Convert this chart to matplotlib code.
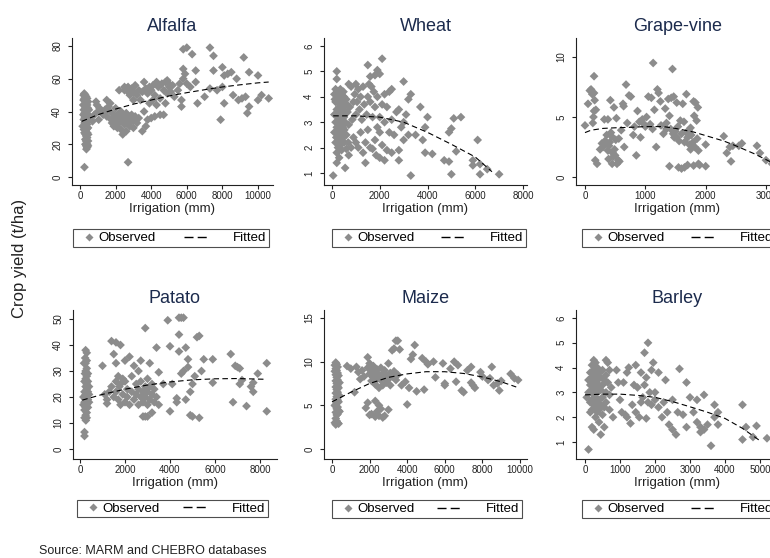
import numpy as np
import matplotlib
matplotlib.use('Agg')
import matplotlib.pyplot as plt
from matplotlib.lines import Line2D
from matplotlib.legend_handler import HandlerLine2D

plt.rcParams['font.family'] = ['Liberation Sans', 'DejaVu Sans']

# ---- Data: (irrigation mm, yield t/ha) ----
alfalfa = [(150, 31), (180, 44), (190, 38), (200, 50), (200, 47), (210, 41), (210, 35), (220, 29),
           (240, 51), (250, 48), (250, 44), (250, 39), (260, 36), (260, 33), (250, 27), (250, 6),
           (300, 50), (300, 46), (290, 42), (310, 38), (300, 34), (300, 31), (310, 26), (300, 23), (300, 20),
           (350, 49), (350, 45), (340, 43), (360, 40), (350, 37), (350, 33), (360, 29), (350, 25), (340, 22),
           (350, 19), (360, 17), (400, 48), (400, 44), (410, 41), (400, 36), (390, 32), (400, 30), (410, 27),
           (400, 24), (410, 20), (400, 18), (450, 46), (450, 42), (460, 38), (450, 34), (450, 30), (460, 26),
           (450, 22), (450, 19), (500, 41), (520, 36),
           (700, 34), (800, 38), (900, 46), (950, 44), (1000, 40), (1050, 35), (1100, 42), (1200, 40),
           (1300, 38), (1400, 41), (1500, 47), (1500, 37), (1600, 43), (1700, 45), (1700, 40), (1750, 35),
           (1800, 33), (1900, 38), (1900, 31), (2000, 42), (2000, 35), (2050, 31), (2100, 38), (2100, 30),
           (2200, 53), (2200, 37), (2200, 33), (2300, 40), (2300, 35), (2300, 29), (2400, 38), (2400, 34),
           (2400, 26), (2500, 55), (2500, 53), (2500, 36), (2500, 32), (2600, 54), (2600, 39), (2600, 35),
           (2600, 28), (2700, 55), (2700, 52), (2700, 37), (2700, 33), (2700, 9), (2800, 50), (2800, 36),
           (2800, 31), (2900, 54), (2900, 38), (2900, 34), (3000, 52), (3000, 47), (3000, 35), (3000, 30),
           (3100, 56), (3100, 37), (3200, 50), (3200, 33), (3300, 53), (3300, 36), (3400, 47), (3500, 52),
           (3500, 28), (3600, 58), (3600, 40), (3700, 54), (3700, 31), (3800, 51), (3800, 35), (3900, 55),
           (3900, 45), (4000, 53), (4000, 36), (4100, 56), (4100, 47), (4200, 50), (4200, 37), (4300, 58),
           (4300, 44), (4400, 55), (4500, 48), (4500, 38), (4600, 57), (4700, 53), (4700, 38), (4800, 58),
           (4800, 45), (4900, 59), (4900, 51), (5000, 57), (5000, 55), (5100, 52), (5200, 56), (5300, 49),
           (5500, 53), (5600, 57), (5700, 47), (5700, 43), (5800, 78), (5800, 66), (5800, 60), (5900, 63),
           (6000, 79), (6000, 57), (6200, 55), (6300, 75), (6500, 65), (6500, 58), (6600, 45), (7000, 49),
           (7300, 79), (7300, 54), (7500, 74), (7500, 65), (7700, 53), (7900, 35), (8000, 67), (8000, 55),
           (8100, 62), (8100, 45), (8300, 63), (8500, 64), (8600, 50), (8800, 60), (8900, 47), (9100, 48),
           (9200, 73), (9300, 49), (9400, 39), (9500, 64), (9500, 43), (10000, 62), (10000, 47), (10200, 50),
           (10600, 48)]
alfalfa_fit_x = [100, 1000, 2000, 3000, 4000, 5000, 6000, 7000, 8000, 9000, 10000, 10600]
alfalfa_fit_y = [34, 38, 41.5, 44.5, 47, 49.5, 51.5, 53.3, 55, 56.3, 57.5, 58]

wheat = [(50, 0.9), (100, 3.3), (100, 4.1), (100, 2.6), (120, 3.9), (150, 3.8), (150, 3.0), (150, 2.2),
         (150, 4.3), (180, 2.4), (200, 5.0), (200, 4.7), (200, 3.5), (200, 2.8), (200, 1.8), (200, 1.4),
         (220, 3.0), (250, 4.2), (250, 3.9), (250, 3.2), (250, 2.5), (250, 2.0), (280, 3.4), (300, 4.0),
         (300, 3.6), (300, 3.1), (300, 2.7), (300, 2.3), (300, 1.6), (320, 2.0), (350, 4.3), (350, 3.7),
         (350, 3.3), (350, 2.9), (350, 2.1), (380, 3.9), (400, 4.1), (400, 3.5), (400, 3.0), (400, 2.6),
         (400, 1.9), (420, 2.3), (450, 3.8), (450, 3.4), (450, 2.8), (450, 2.4), (480, 4.2), (500, 4.0),
         (500, 3.6), (500, 3.2), (500, 2.2), (520, 2.7), (550, 1.2), (550, 3.0), (580, 3.4), (600, 3.9),
         (600, 2.5), (600, 1.95), (620, 3.7), (650, 3.4), (680, 2.2), (700, 1.7), (700, 4.5), (700, 2.9),
         (750, 3.6), (800, 4.4), (800, 2.0), (850, 3.1), (900, 3.8), (900, 2.4), (950, 4.1), (1000, 4.5),
         (1000, 3.3), (1000, 2.2), (1050, 3.8), (1100, 4.3), (1100, 2.0), (1150, 3.5), (1200, 4.0),
         (1200, 2.6), (1250, 3.1), (1300, 4.4), (1300, 1.8), (1350, 3.7), (1400, 2.2), (1400, 1.4),
         (1450, 3.3), (1500, 5.25), (1500, 4.0), (1500, 2.7), (1550, 4.5), (1600, 4.8), (1600, 3.8),
         (1600, 2.0), (1650, 4.4), (1700, 3.2), (1700, 1.95), (1750, 4.2), (1800, 4.85), (1800, 3.6),
         (1800, 2.3), (1850, 1.7), (1900, 5.05), (1900, 4.0), (1900, 2.8), (2000, 4.9), (2000, 3.2),
         (2000, 2.6), (2000, 1.6), (2100, 5.5), (2100, 3.7), (2100, 2.1), (2200, 4.1), (2200, 3.0),
         (2200, 1.5), (2300, 3.6), (2300, 1.9), (2400, 4.2), (2400, 2.6), (2500, 4.3), (2500, 3.1),
         (2500, 1.8), (2600, 2.5), (2700, 3.4), (2800, 3.5), (2800, 1.9), (2800, 1.5), (2900, 2.8),
         (3000, 4.6), (3000, 3.0), (3000, 2.3), (3100, 3.3), (3200, 3.9), (3200, 2.5), (3300, 4.1),
         (3300, 0.9), (3500, 2.5), (3700, 3.6), (3800, 2.3), (3900, 2.8), (3900, 1.8), (4000, 3.2),
         (4200, 1.75), (4700, 1.5), (4900, 1.45), (4900, 2.6), (5000, 2.75), (5000, 0.95), (5100, 3.15),
         (5200, 1.85), (5400, 3.2), (5900, 1.5), (5900, 1.3), (6100, 2.3), (6200, 1.35), (6200, 0.95),
         (6500, 1.15), (7000, 0.95)]
wheat_fit_x = [50, 1000, 2000, 3000, 4000, 5000, 6000, 6700]
wheat_fit_y = [3.25, 3.25, 3.2, 3.0, 2.6, 2.13, 1.63, 1.05]

grape = [(0, 4.3), (50, 6.1), (80, 7.2), (100, 7.3), (120, 6.9), (130, 4.5), (150, 8.4), (150, 5.5),
         (140, 5.0), (160, 6.4), (150, 7.0), (180, 5.6), (170, 1.4), (200, 1.1), (250, 2.3), (280, 2.8),
         (300, 2.5), (320, 4.8), (330, 3.0), (350, 2.9), (360, 3.5), (380, 2.2), (380, 4.8), (390, 1.5),
         (400, 2.6), (410, 2.9), (420, 6.4), (430, 3.7), (440, 3.4), (450, 1.1), (460, 2.0), (470, 1.7),
         (480, 5.8), (490, 2.3), (500, 1.8), (510, 3.1), (520, 4.9), (530, 1.1), (550, 1.4), (560, 3.2),
         (570, 1.3), (600, 3.9), (630, 6.1), (640, 5.9), (650, 2.5), (680, 7.7), (700, 4.5), (730, 6.8),
         (760, 6.7), (800, 3.5), (820, 4.2), (850, 1.8), (870, 5.5), (900, 4.6), (920, 3.3), (950, 4.8),
         (980, 4.4), (1000, 4.2), (1020, 5.0), (1050, 6.7), (1080, 4.4), (1100, 6.6), (1120, 4.0),
         (1130, 9.5), (1150, 5.6), (1180, 2.5), (1200, 7.3), (1220, 7.0), (1250, 6.3), (1260, 4.3),
         (1300, 3.6), (1330, 5.7), (1350, 4.0), (1350, 4.5), (1380, 6.5), (1400, 0.9), (1400, 5.1),
         (1420, 4.0), (1430, 6.6), (1450, 9.0), (1460, 3.6), (1470, 6.7), (1480, 3.3), (1500, 3.8),
         (1520, 6.2), (1520, 3.3), (1540, 4.2), (1550, 0.8), (1560, 3.0), (1580, 4.7), (1600, 0.7),
         (1600, 3.6), (1620, 6.1), (1640, 4.6), (1650, 0.8), (1650, 2.9), (1680, 6.9), (1680, 3.7),
         (1700, 1.0), (1700, 3.3), (1720, 3.9), (1730, 2.7), (1750, 4.1), (1750, 2.3), (1760, 3.5),
         (1790, 2.9), (1800, 6.3), (1800, 0.95), (1810, 5.1), (1820, 2.5), (1830, 6.2), (1850, 4.7),
         (1860, 3.2), (1870, 5.8), (1880, 1.1), (1880, 2.2), (1900, 1.0), (2000, 0.9), (2000, 2.7),
         (2300, 3.4), (2350, 2.0), (2400, 2.5), (2420, 1.3), (2450, 2.6), (2550, 2.6), (2600, 2.8),
         (2850, 2.6), (2900, 2.0), (3000, 1.4), (3100, 1.1)]
grape_fit_x = [0, 100, 300, 500, 800, 1000, 1300, 1500, 1800, 2000, 2300, 2500, 2800, 3000, 3100]
grape_fit_y = [3.7, 3.9, 4.05, 4.1, 4.15, 4.2, 4.2, 4.05, 3.75, 3.45, 3.0, 2.6, 1.95, 1.45, 1.2]

patato = [(150, 20), (150, 17), (180, 33), (200, 5), (200, 6.5), (200, 12), (200, 15), (200, 18),
          (200, 22), (200, 26), (220, 29), (230, 35), (250, 38), (250, 33), (250, 30), (250, 27), (250, 24),
          (250, 21), (250, 19), (250, 16), (250, 13), (260, 11), (300, 37), (300, 34), (300, 31), (300, 28),
          (300, 25), (300, 23), (300, 20), (300, 17), (300, 14), (300, 12), (350, 29), (350, 26), (350, 22),
          (350, 19), (350, 16), (400, 24), (400, 21), (400, 18),
          (1000, 32), (1100, 21), (1200, 17.5), (1200, 19), (1300, 22), (1400, 41.5), (1400, 24),
          (1500, 36.5), (1500, 20), (1600, 41), (1600, 33), (1600, 26), (1600, 22), (1700, 28), (1700, 19),
          (1750, 24), (1800, 40), (1800, 25), (1800, 17), (1900, 21), (1900, 27), (2000, 34), (2000, 26),
          (2000, 18), (2100, 23), (2100, 20), (2200, 35.5), (2200, 17), (2300, 28), (2300, 22), (2400, 32),
          (2400, 19), (2500, 25), (2500, 21), (2600, 30), (2600, 23), (2600, 17), (2700, 34), (2700, 20),
          (2700, 26), (2800, 12.5), (2800, 22), (2800, 18), (2900, 46.5), (2900, 12.5), (2900, 24),
          (2900, 20), (3000, 12.5), (3000, 27), (3000, 22), (3000, 17), (3100, 33), (3100, 19), (3100, 24),
          (3200, 14), (3200, 21), (3200, 25), (3300, 18), (3300, 23), (3400, 39), (3400, 20), (3500, 29.5),
          (3500, 17), (3700, 25), (3900, 49.5), (4000, 39.5), (4000, 14.5), (4100, 25), (4300, 19.5),
          (4300, 18), (4400, 50.5), (4400, 44), (4400, 37.5), (4500, 50.5), (4500, 29), (4600, 50.5),
          (4600, 30), (4700, 39), (4700, 19), (4800, 31.5), (4800, 34.5), (4900, 13), (4900, 22),
          (5000, 12.5), (5000, 25), (5100, 28), (5200, 43), (5300, 43.5), (5300, 12), (5400, 30),
          (5500, 34.5), (5900, 34.5), (5900, 25.5), (6700, 36.5), (6800, 18), (6900, 32), (7000, 31.5),
          (7100, 31), (7100, 25), (7200, 26.5), (7400, 16.5), (7600, 24), (7700, 22), (7700, 25.5),
          (7900, 29), (8300, 33), (8300, 14.5)]
patato_fit_x = [100, 1000, 2000, 3000, 4000, 5000, 6000, 7000, 8300]
patato_fit_y = [18.8, 21, 23, 24.6, 25.8, 26.6, 27.0, 27.1, 26.8]

maize = [(150, 9.6), (150, 8.9), (150, 5.0), (150, 3.0), (200, 9.9), (200, 9.2), (200, 8.5), (200, 7.8),
         (200, 7.1), (200, 6.4), (200, 5.7), (200, 4.9), (200, 4.2), (200, 3.5), (200, 2.8), (250, 9.7),
         (250, 9.0), (250, 8.2), (250, 7.5), (250, 6.8), (250, 6.0), (250, 5.3), (250, 4.6), (250, 3.9),
         (250, 3.2), (300, 9.4), (300, 8.7), (300, 7.9), (300, 7.2), (300, 6.5), (300, 5.6), (300, 4.8),
         (300, 4.0), (300, 3.0), (350, 8.4), (350, 7.0), (350, 5.4), (350, 4.4), (350, 2.9), (400, 7.6),
         (400, 6.1), (400, 4.3),
         (800, 9.5), (1000, 9.2), (1200, 6.5), (1300, 9.4), (1400, 8.8), (1500, 8.0), (1600, 9.0),
         (1700, 8.3), (1800, 4.7), (1900, 10.5), (1900, 5.3), (1900, 9.3), (2000, 3.9), (2000, 9.8),
         (2000, 8.6), (2100, 4.0), (2100, 9.0), (2100, 7.8), (2200, 9.5), (2200, 8.2), (2300, 3.7),
         (2300, 5.5), (2300, 8.8), (2300, 7.4), (2400, 4.3), (2400, 9.1), (2400, 8.0), (2500, 5.0),
         (2500, 3.8), (2500, 8.5), (2500, 7.0), (2600, 4.6), (2600, 9.3), (2600, 7.9), (2700, 3.6),
         (2700, 8.6), (2700, 7.3), (2800, 3.8), (2800, 9.0), (2800, 8.1), (2900, 8.4), (2900, 7.6),
         (3000, 4.5), (3000, 9.8), (3000, 8.0), (3100, 8.7), (3100, 7.3), (3200, 11.3), (3200, 8.3),
         (3300, 11.5), (3300, 8.9), (3400, 12.4), (3400, 7.9), (3500, 12.4), (3500, 8.5), (3600, 11.4),
         (3700, 7.3), (3900, 7.7), (4000, 5.1), (4100, 7.0), (4200, 10.3), (4300, 10.8), (4400, 11.9),
         (4500, 6.6), (4800, 10.4), (4900, 6.8), (5000, 10.0), (5100, 9.7), (5400, 10.0), (5500, 8.2),
         (5900, 9.8), (6000, 7.5), (6000, 7.3), (6300, 9.2), (6500, 10.0), (6600, 7.7), (6700, 9.6),
         (6900, 6.7), (7000, 6.5), (7200, 9.0), (7400, 9.4), (7400, 7.6), (7500, 7.3), (7600, 7.0),
         (7900, 8.8), (8000, 8.3), (8300, 7.9), (8400, 8.1), (8500, 9.4), (8600, 7.3), (8800, 7.5),
         (8900, 6.7), (9000, 7.8), (9500, 8.6), (9700, 8.1), (9900, 7.9)]
maize_fit_x = [0, 1000, 2000, 3000, 4000, 5000, 6000, 7000, 8000, 9000, 9800]
maize_fit_y = [5.4, 6.5, 7.5, 8.2, 8.6, 8.85, 8.85, 8.65, 8.25, 7.7, 7.1]

barley = [(50, 2.8), (100, 3.5), (100, 0.7), (100, 3.0), (150, 3.8), (150, 3.3), (150, 2.6), (150, 2.2),
          (200, 4.1), (200, 3.6), (200, 3.1), (200, 2.7), (200, 2.3), (200, 1.6), (250, 4.3), (250, 3.9),
          (250, 3.4), (250, 2.9), (250, 2.5), (250, 1.5), (300, 4.2), (300, 3.7), (300, 3.2), (300, 2.8),
          (300, 2.4), (300, 2.0), (350, 4.0), (350, 3.5), (350, 3.0), (350, 2.6), (350, 2.2), (400, 3.8),
          (400, 3.3), (400, 2.7), (400, 2.3), (400, 1.8), (450, 3.6), (450, 3.1), (450, 2.5), (450, 1.3),
          (500, 3.9), (500, 3.3), (500, 2.8), (500, 2.1), (550, 3.5), (550, 2.4), (550, 1.6), (600, 4.3),
          (600, 3.7), (600, 3.0), (600, 2.6), (650, 4.2), (650, 3.4), (700, 3.9), (700, 2.9), (700, 2.3),
          (750, 3.2), (800, 2.0),
          (900, 3.9), (950, 3.4), (1000, 2.7), (1050, 2.2), (1100, 3.4), (1150, 2.1), (1200, 3.8),
          (1200, 2.0), (1250, 4.0), (1300, 1.75), (1350, 2.5), (1400, 3.3), (1450, 4.1), (1450, 2.2),
          (1500, 3.2), (1550, 2.0), (1600, 3.8), (1600, 2.6), (1650, 2.8), (1700, 4.6), (1700, 3.3),
          (1750, 1.95), (1750, 3.6), (1800, 5.0), (1800, 2.6), (1850, 3.0), (1900, 3.9), (1900, 2.5),
          (1950, 4.2), (2000, 3.0), (2000, 2.7), (2100, 3.8), (2100, 2.4), (2200, 2.0), (2250, 2.6),
          (2300, 3.5), (2350, 2.2), (2400, 1.7), (2500, 2.7), (2500, 1.5), (2600, 1.3), (2650, 2.2),
          (2700, 3.95), (2800, 2.1), (2900, 3.4), (2900, 1.6), (3000, 2.8), (3100, 2.2), (3200, 2.7),
          (3200, 1.8), (3300, 1.4), (3300, 1.6), (3400, 2.9), (3400, 1.5), (3500, 1.7), (3600, 0.85),
          (3700, 2.5), (3700, 2.0), (3800, 2.2), (3800, 1.7), (4500, 2.5), (4500, 1.1), (4600, 1.6),
          (4800, 1.2), (4900, 1.65), (5200, 1.15)]
barley_fit_x = [0, 500, 1000, 1500, 2000, 2500, 3000, 3500, 4000, 4500, 5000]
barley_fit_y = [2.9, 2.93, 2.93, 2.88, 2.8, 2.63, 2.42, 2.2, 1.95, 1.55, 1.05]

# ---- layout (pixel boxes of the 770x558 canvas) ----
W, H = 770, 558
GRAY = '#8c8c8c'
NAVY = '#1c2b4d'
INK = '#222222'

panels = [
    ('Alfalfa', alfalfa, alfalfa_fit_x, alfalfa_fit_y, (72, 38, 273, 185),
     [0, 2000, 4000, 6000, 8000, 10000], [0, 20, 40, 60, 80], ((0, 80), (10000, 258)), ((0, 177), (80, 46)),
     (73, 228, 269, 248)),
    ('Wheat', wheat, wheat_fit_x, wheat_fit_y, (324, 38, 527, 185),
     [0, 2000, 4000, 6000, 8000], [1, 2, 3, 4, 5, 6], ((0, 332), (8000, 523)), ((1, 173), (6, 46)),
     (332, 228, 526, 248)),
    ('Grape-vine', grape, grape_fit_x, grape_fit_y, (576, 38, 779, 185),
     [0, 1000, 2000, 3000], [0, 5, 10], ((0, 585), (3000, 766)), ((0, 177), (10, 57)),
     (582, 228, 776, 248)),
    ('Patato', patato, patato_fit_x, patato_fit_y, (73, 310, 277, 459),
     [0, 2000, 4000, 6000, 8000], [0, 10, 20, 30, 40, 50], ((0, 80), (8000, 260)), ((0, 449), (50, 319)),
     (77, 499, 268, 518)),
    ('Maize', maize, maize_fit_x, maize_fit_y, (324, 310, 527, 459),
     [0, 2000, 4000, 6000, 8000, 10000], [0, 5, 10, 15], ((0, 332), (10000, 520)), ((0, 449), (15, 318)),
     (332, 500, 522, 518)),
    ('Barley', barley, barley_fit_x, barley_fit_y, (576, 310, 779, 459),
     [0, 1000, 2000, 3000, 4000, 5000], [1, 2, 3, 4, 5, 6], ((0, 585), (5000, 760)), ((1, 442), (6, 318)),
     (582, 499, 776, 519)),
]


def lim_from(ref, lo_px, hi_px):
    (v0, p0), (v1, p1) = ref
    k = (v1 - v0) / (p1 - p0)
    return v0 + (lo_px - p0) * k, v0 + (hi_px - p0) * k


fig = plt.figure(figsize=(W / 100, H / 100), dpi=100, facecolor='white')

for name, pts, fx, fy, box, xt, yt, xref, yref, lbox in panels:
    l, t, r, b = box
    ax = fig.add_axes([l / W, 1 - b / H, (r - l) / W, (b - t) / H])
    xy = np.array(pts, dtype=float)
    ax.scatter(xy[:, 0], xy[:, 1], marker='D', s=20, color=GRAY, edgecolors='none', zorder=2)
    ax.plot(fx, fy, color='black', lw=0.8, ls=(0, (5, 3)), zorder=3)
    ax.set_xlim(*lim_from(xref, l, r))
    ax.set_ylim(*lim_from(yref, b, t))
    ax.set_xticks(xt)
    ax.set_yticks(yt)
    for s in ('top', 'right'):
        ax.spines[s].set_visible(False)
    for s in ('left', 'bottom'):
        ax.spines[s].set_color(INK)
        ax.spines[s].set_linewidth(0.8)
    ax.tick_params(direction='out', length=3, width=0.8, color=INK, labelsize=7, labelcolor=INK)
    ax.tick_params(axis='x', pad=1.5)
    ax.tick_params(axis='y', pad=4, labelrotation=90)
    for lab in ax.get_yticklabels():
        lab.set_va('center')
    ax.set_title(name, fontsize=13, color=NAVY, pad=5)
    ax.set_xlabel('Irrigation (mm)', fontsize=9.5, color=INK, labelpad=1)

    # legend box under each panel
    obs = Line2D([], [], marker='D', ls='none', color=GRAY, ms=4.5, mec='none')
    fit = Line2D([], [], color='black', lw=1.0, ls=(0, (6.5, 3, 6.5, 40)))
    ll, lt, lr, lb = lbox
    leg = ax.legend([obs, fit], ['Observed', 'Fitted'], ncol=2, mode='expand', loc='center',
                    bbox_to_anchor=(ll / W, 1 - lb / H, (lr - ll) / W, (lb - lt) / H),
                    bbox_transform=fig.transFigure, borderaxespad=0, borderpad=0.2,
                    fontsize=9.5, frameon=True, fancybox=False, edgecolor=INK,
                    handlelength=1.55, handletextpad=0.2, columnspacing=0,
                    handler_map={obs: HandlerLine2D(xpad=0.4), fit: HandlerLine2D(xpad=-2.0)})
    leg.get_frame().set_linewidth(0.8)

fig.text(20 / W, 1 - 258 / H, 'Crop yield (t/ha)', rotation=90, fontsize=12,
         ha='center', va='center', color=INK)
fig.text(39 / W, 1 - 551 / H, 'Source: MARM and CHEBRO databases', fontsize=9,
         ha='left', va='center', color=INK)

fig.savefig('out.png', dpi=100, facecolor='white')
